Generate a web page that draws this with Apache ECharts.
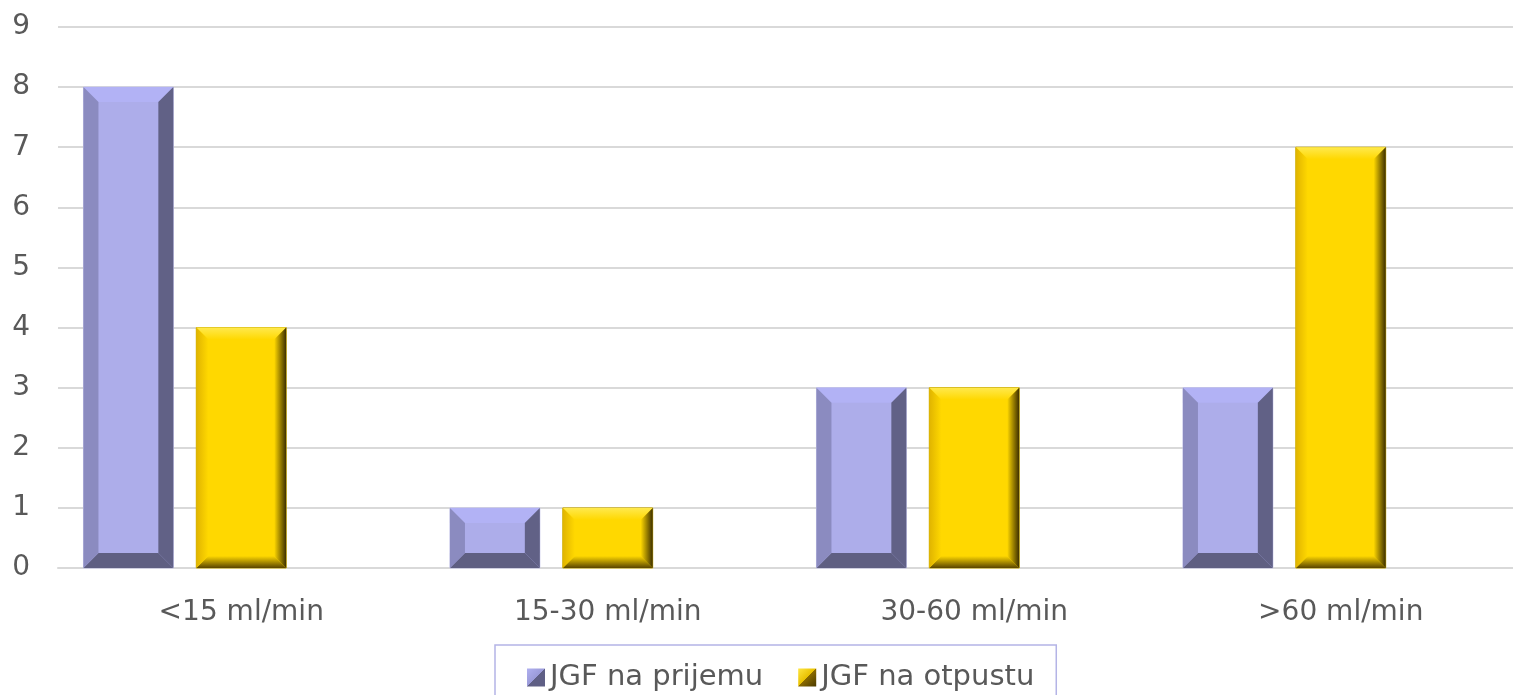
<!DOCTYPE html>
<html>
<head>
<meta charset="utf-8">
<script src="https://cdn.jsdelivr.net/npm/echarts@6/dist/echarts.min.js"></script>
<style>
html,body{margin:0;padding:0;background:#fff;}
#main{width:1513px;height:695px;}
</style>
</head>
<body>
<div id="main"></div>
<script>
var categories = ['<15 ml/min', '15-30 ml/min', '30-60 ml/min', '>60 ml/min'];
var prijem = [8, 1, 3, 3];
var otpust = [4, 1, 3, 7];
var yTicks = [0, 1, 2, 3, 4, 5, 6, 7, 8, 9];

var chart = echarts.init(document.getElementById('main'));

// bevel bar drawn with custom series, slot = position in a 3-bar group
function bevelBar(slot, look) {
  return function (params, api) {
    var idx = api.value(0);
    var val = api.value(1);
    var band = api.size([1, 0])[0];
    var c = api.coord([idx, 0]);
    var top = api.coord([idx, val])[1];
    var w = band * 90 / 367;
    var g = band * 23 / 367;
    var start = c[0] - (3 * w + 2 * g) / 2;
    var x0 = start + slot * (w + g);
    var x1 = x0 + w;
    var y0 = top, y1 = c[1];
    var b = Math.min(look.bevel, w / 2, (y1 - y0) / 2);
    function poly(pts, fill) {
      return { type: 'polygon', shape: { points: pts }, style: { fill: fill }, silent: true };
    }
    function grad(xa, ya, xb, yb, c1, c2) {
      return { type: 'linear', x: xa, y: ya, x2: xb, y2: yb, global: true,
        colorStops: [{ offset: 0, color: c1 }, { offset: 1, color: c2 }] };
    }
    var kids = [
      { type: 'rect', shape: { x: x0, y: y0, width: w, height: y1 - y0 }, style: { fill: look.center, stroke: look.stroke, lineWidth: 1 } }
    ];
    if (look.flat) {
      kids.push(poly([[x0, y0], [x1, y0], [x1 - b, y0 + b], [x0 + b, y0 + b]], look.top));
      kids.push(poly([[x0, y1], [x1, y1], [x1 - b, y1 - b], [x0 + b, y1 - b]], look.bottom));
      kids.push(poly([[x0, y0], [x0 + b, y0 + b], [x0 + b, y1 - b], [x0, y1]], look.left));
      kids.push(poly([[x1, y0], [x1 - b, y0 + b], [x1 - b, y1 - b], [x1, y1]], look.right));
    } else {
      kids.push(poly([[x0, y0], [x1, y0], [x1 - b, y0 + b], [x0 + b, y0 + b]], grad(0, y0, 0, y0 + b, look.top, look.center)));
      kids.push(poly([[x0, y1], [x1, y1], [x1 - b, y1 - b], [x0 + b, y1 - b]], grad(0, y1, 0, y1 - b, look.bottom, look.center)));
      kids.push(poly([[x0, y0], [x0 + b, y0 + b], [x0 + b, y1 - b], [x0, y1]], grad(x0, 0, x0 + b, 0, look.left, look.center)));
      kids.push(poly([[x1, y0], [x1 - b, y0 + b], [x1 - b, y1 - b], [x1, y1]], grad(x1, 0, x1 - b, 0, look.right, look.center)));
    }
    return { type: 'group', children: kids };
  };
}

var purpleLook = { flat: true, bevel: 15, center: '#adadea', top: '#b2b2f5', left: '#8b8bc0', right: '#616186', bottom: '#5f5f82', stroke: '#c4c4e8' };
var yellowLook = { flat: false, bevel: 12, center: '#ffd800', top: '#ffe94d', left: '#e0b400', right: '#3d2f00', bottom: '#5a4500', stroke: '#c8a800' };

function toData(arr) {
  return arr.map(function (v, i) { return [i, v]; });
}

var option = {
  animation: false,
  grid: { left: 58, width: 1466, top: 27, bottom: 127, outerBoundsMode: 'none', containLabel: false },
  legend: {
    left: 495,
    top: 645,
    width: 565,
    padding: [18, 22, 20, 32],
    borderColor: '#b4b4e6',
    borderWidth: 1.5,
    itemWidth: 18,
    itemHeight: 18,
    itemGap: 35,
    icon: 'rect',
    textStyle: { fontFamily: 'DejaVu Sans', fontSize: 29, color: '#595959' },
    data: [
      { name: 'JGF na prijemu', itemStyle: { color: { type: 'linear', x: 0, y: 0, x2: 1, y2: 1,
        colorStops: [{ offset: 0, color: '#b0b0f0' }, { offset: 0.5, color: '#9a9ad8' }, { offset: 0.5, color: '#5f5f85' }, { offset: 1, color: '#5f5f85' }] } } },
      { name: 'JGF na otpustu', itemStyle: { color: { type: 'linear', x: 0, y: 0, x2: 1, y2: 1,
        colorStops: [{ offset: 0, color: '#ffe640' }, { offset: 0.5, color: '#e8c000' }, { offset: 0.5, color: '#8a6a00' }, { offset: 1, color: '#4a3a00' }] } } }
    ]
  },
  xAxis: {
    type: 'category',
    data: categories,
    axisTick: { show: false },
    axisLine: { lineStyle: { color: '#d9d9d9', width: 2 } },
    axisLabel: { margin: 31, fontFamily: 'DejaVu Sans', fontSize: 28, color: '#595959', interval: 0 }
  },
  yAxis: {
    type: 'value',
    min: yTicks[0],
    max: yTicks[yTicks.length - 1],
    interval: 1,
    axisLine: { show: false },
    axisTick: { show: false },
    axisLabel: { margin: 28, fontFamily: 'DejaVu Sans', fontSize: 28, color: '#595959' },
    splitLine: { lineStyle: { color: '#d9d9d9', width: 2 } }
  },
  series: [
    { name: 'JGF na prijemu', type: 'custom', renderItem: bevelBar(0, purpleLook), data: toData(prijem), itemStyle: { color: '#adadea' } },
    { name: 'JGF na otpustu', type: 'custom', renderItem: bevelBar(1, yellowLook), data: toData(otpust), itemStyle: { color: '#ffd800' } }
  ]
};

chart.setOption(option);
</script>
</body>
</html>
